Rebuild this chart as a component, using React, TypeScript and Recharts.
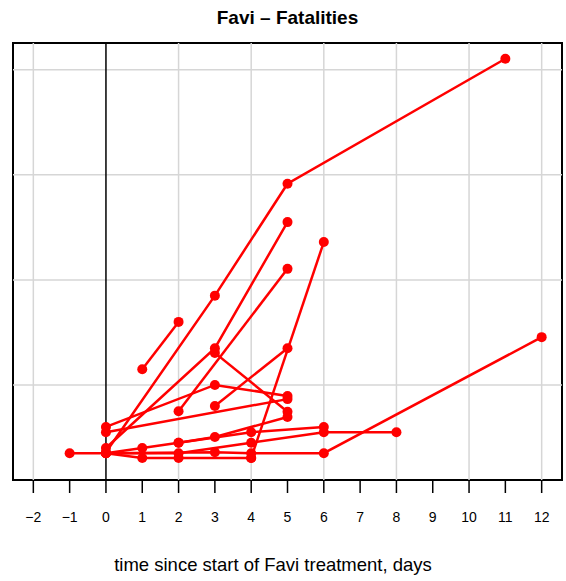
import React from "react";
import {
  LineChart,
  Line,
  XAxis,
  YAxis,
  ReferenceLine,
  ReferenceArea,
} from "recharts";

// one entry per patient: days since start of treatment and the measured value
const patientDays = [
  [1, 2],
  [0, 3, 5, 11],
  [0, 3, 5],
  [3, 5],
  [2, 5],
  [3, 5],
  [4, 6],
  [0, 3, 5],
  [0, 5],
  [-1, 0, 1, 2, 3, 5],
  [2, 4, 6],
  [0, 2, 4, 6, 8],
  [0, 1, 2, 4],
  [0, 3, 4, 6, 12],
];

const patientValues = [
  [23.0, 32.0],
  [7.2, 37.0, 58.3, 82.1],
  [8.0, 27.0, 51.0],
  [26.1, 14.9],
  [15.0, 42.1],
  [16.0, 27.0],
  [6.1, 47.2],
  [12.0, 20.0, 17.9],
  [11.0, 17.3],
  [7.0, 7.0, 8.0, 9.0, 10.1, 13.9],
  [9.0, 11.0, 12.0],
  [7.0, 7.0, 9.0, 11.0, 11.0],
  [7.0, 6.1, 6.1, 6.1],
  [7.0, 7.2, 7.0, 7.0, 29.1],
];

const xTicks = [-2, -1, 0, 1, 2, 3, 4, 5, 6, 7, 8, 9, 10, 11, 12];
const xGrid = [-2, 2, 4, 6, 8, 10, 12];
const yGrid = [20, 40, 60, 80];

const xDomain = [-2.56, 12.56];
const yDomain = [1.9, 85.1];

const RED = "#ff0000";
const FONT = "'Liberation Sans', Arial, Helvetica, sans-serif";

const series = patientDays.map((days, i) =>
  days.map((d, j) => ({ day: d, value: patientValues[i][j] }))
);

export default function App() {
  return (
    <div
      style={{
        position: "absolute",
        left: 0,
        top: 0,
        width: 566,
        height: 581,
        background: "#fff",
        fontFamily: FONT,
      }}
    >
      <div
        style={{
          position: "absolute",
          left: 13,
          width: 549,
          top: 6,
          textAlign: "center",
          fontWeight: "bold",
          fontSize: 19,
          lineHeight: "24px",
        }}
      >
        Favi – Fatalities
      </div>
      <LineChart
        width={566}
        height={581}
        margin={{ top: 43, right: 4, bottom: 0, left: 13 }}
      >
        {yGrid.map((v) => (
          <ReferenceLine key={"h" + v} y={v} stroke="#d6d6d6" strokeWidth={1.5} />
        ))}
        {xGrid.map((v) => (
          <ReferenceLine key={"v" + v} x={v} stroke="#d6d6d6" strokeWidth={1.5} />
        ))}
        <ReferenceLine x={0} stroke="#000" strokeWidth={1.5} />
        <XAxis
          dataKey="day"
          type="number"
          domain={xDomain}
          ticks={xTicks}
          allowDataOverflow
          height={101}
          axisLine={false}
          tickLine={{ stroke: "#000", strokeWidth: 1.5 }}
          tickSize={13}
          tickMargin={19}
          tick={{ fill: "#000", fontSize: 14, fontFamily: FONT }}
          tickFormatter={(v) => String(v).replace("-", "\u2212")}
          interval={0}
        />
        <YAxis type="number" domain={yDomain} allowDataOverflow hide />
        {series.map((data, i) => (
          <Line
            key={i}
            data={data}
            dataKey="value"
            stroke={RED}
            strokeWidth={2.5}
            dot={{ r: 5, fill: RED, stroke: RED, strokeWidth: 0 }}
            activeDot={false}
            isAnimationActive={false}
          />
        ))}
        <ReferenceArea
          x1={xDomain[0]}
          x2={xDomain[1]}
          y1={yDomain[0]}
          y2={yDomain[1]}
          fill="none"
          fillOpacity={0}
          stroke="#000"
          strokeWidth={2}
        />
      </LineChart>
      <div
        style={{
          position: "absolute",
          left: 0,
          width: 546,
          top: 553,
          textAlign: "center",
          fontSize: 18.5,
          lineHeight: "24px",
        }}
      >
        time since start of Favi treatment, days
      </div>
    </div>
  );
}
